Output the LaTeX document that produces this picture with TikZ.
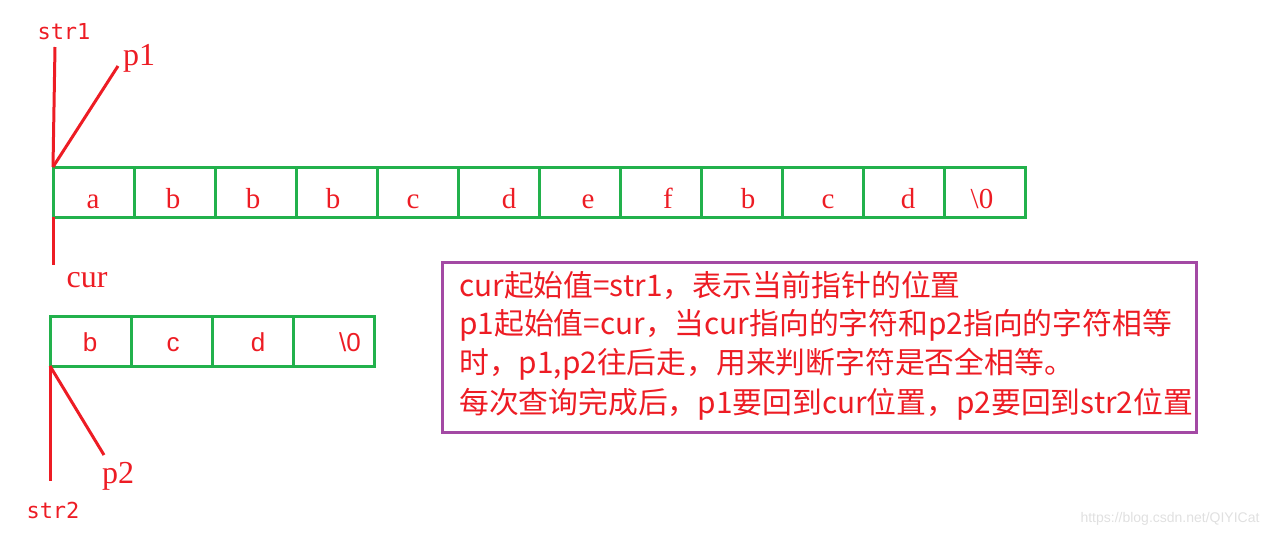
\documentclass[tikz,border=0pt]{standalone}
\usepackage{fontspec}
\setmainfont{Liberation Serif}
\newfontfamily\cjkfont{Noto Sans CJK SC}
\newfontfamily\monofont{DejaVu Sans Mono}
\newfontfamily\lsans{Liberation Sans}
\definecolor{pred}{RGB}{237,28,36}
\definecolor{pgreen}{RGB}{34,177,76}
\definecolor{ppurple}{RGB}{163,73,164}
\begin{document}
\begin{tikzpicture}[x=1pt,y=-1pt,
  cell/.style={draw=pgreen,line width=3pt,minimum width=81pt,minimum height=50pt,inner sep=0pt,outer sep=0pt},
  ptr/.style={draw=pred,line width=3pt},
  letter/.style={text=pred,font=\fontsize{29}{29}\selectfont,inner sep=0pt,anchor=base},
  sletter/.style={text=pred,font=\lsans\fontsize{26}{26}\selectfont,inner sep=0pt,anchor=base},
  serlabel/.style={text=pred,font=\fontsize{32}{32}\selectfont,inner sep=0pt,anchor=base},
  monolabel/.style={text=pred,font=\monofont\fontsize{22}{22}\selectfont,inner sep=0pt,anchor=base},
  note/.style={text=pred,font=\cjkfont\fontsize{29.8}{29.8}\selectfont,inner sep=0pt,anchor=west},
  notebox/.style={draw=ppurple,line width=3pt,minimum width=754pt,minimum height=170pt,inner sep=0pt,outer sep=0pt}]
\useasboundingbox (0,0) rectangle (1284,536);
% top array
\foreach \i in {1,...,12}
  \node[cell] (t\i) at ({53+81*(\i-0.5)},192) {};
\foreach \x/\t [count=\k] in {93/a,173/b,253/b,333/b,413/c,509/d,588/e,668/f,748/b,828/c,908/d,982/\textbackslash0}
  \node[letter] (lt\k) at (\x,208) {\t};
% bottom array
\foreach \i in {1,...,4}
  \node[cell] (b\i) at ({50+81*(\i-0.5)},341) {};
\foreach \x/\t [count=\k] in {90/b,173/c,258/d,350/\textbackslash0}
  \node[sletter] (lb\k) at (\x,351) {\t};
% pointers, top
\coordinate (s1top) at (55,47);
\coordinate (p1end) at (118,66);
\coordinate (curend) at (53,265);
\draw[ptr] (t1.north west) -- (s1top);
\draw[ptr] (t1.north west) -- (p1end);
\draw[ptr] (t1.south west) -- (curend);
\node[monolabel] (str1) at (64,39) {str1};
\node[serlabel] (p1) at (139,65) {p1};
\node[serlabel] (cur) at (87,287) {cur};
% pointers, bottom
\coordinate (s2end) at (50,481);
\coordinate (p2end) at (104,455);
\draw[ptr] (b1.south west) -- (s2end);
\draw[ptr] (b1.south west) -- (p2end);
\node[serlabel] (p2) at (118,483) {p2};
\node[monolabel] (str2) at (53,518) {str2};
% note box
\node[notebox] (box) at (819,347) {};
\node[note] (n1) at (459,285) {cur起始值=str1，表示当前指针的位置};
\node[note] (n2) at (459,325) {p1起始值=cur，当cur指向的字符和p2指向的字符相等};
\node[note] (n3) at (459,364) {时，p1,p2往后走，用来判断字符是否全相等。};
\node[note] (n4) at (459,404) {每次查询完成后，p1要回到cur位置，p2要回到str2位置};
% watermark
\node[text=black!12,font=\lsans\fontsize{14}{14}\selectfont,inner sep=0pt] (wm) at (1170,519) {https://blog.csdn.net/QIYICat};
\end{tikzpicture}
\end{document}
